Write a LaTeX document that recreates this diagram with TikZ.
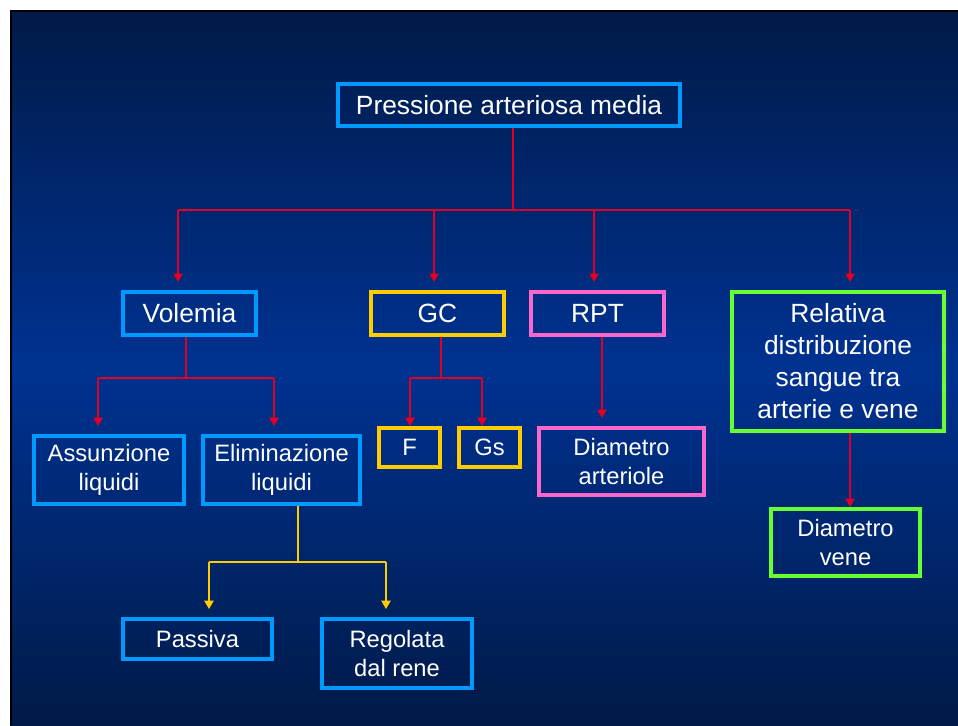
\documentclass[tikz,border=0pt]{standalone}
\usepackage{fontspec}
\setmainfont{Liberation Sans}
\usetikzlibrary{arrows.meta,positioning,calc}
\definecolor{bgtop}{RGB}{0,26,72}
\definecolor{bgmid}{RGB}{0,50,145}
\definecolor{bluebox}{RGB}{0,153,255}
\definecolor{yelbox}{RGB}{255,204,0}
\definecolor{pinkbox}{RGB}{255,102,204}
\definecolor{greenbox}{RGB}{102,255,51}
\definecolor{linkred}{RGB}{225,0,35}

\begin{document}
\begin{tikzpicture}[x=0.02cm,y=-0.02cm,>={Triangle[length=0.17cm,width=0.19cm]},
 box/.style={draw=#1,line width=0.08cm,text=white,align=center,inner sep=0pt,font=\fontsize{13.5}{16.4}\selectfont},
 big/.style={font=\fontsize{15}{18.2}\selectfont},
 rl/.style={draw=linkred,fill=linkred,line width=0.03cm},
 yl/.style={draw=yelbox,fill=yelbox,line width=0.03cm},
 gap/.style={shorten >=0.16cm}]
\useasboundingbox (0,0) rectangle (958,725);
% background
\fill[white] (0,0) rectangle (958,725);
\shade[top color=bgtop,bottom color=bgtop,middle color=bgmid] (10,10) rectangle (958,725);
\draw[black,line width=0.05cm] (11,725) -- (11,11) -- (958,11);
% boxes
\node[box=bluebox,big,minimum width=6.84cm,minimum height=0.84cm] (pam) at (509,105) {Pressione arteriosa media};
\node[box=bluebox,big,minimum width=2.66cm,minimum height=0.86cm] (vol) at (189.5,313.5) {Volemia};
\node[box=yelbox,big,minimum width=2.66cm,minimum height=0.86cm] (gc) at (437.5,313.5) {GC};
\node[box=pinkbox,big,minimum width=2.66cm,minimum height=0.86cm] (rpt) at (597.5,313.5) {RPT};
\node[box=greenbox,big,minimum width=4.24cm,minimum height=2.78cm] (rel) at (838,361.5) {Relativa\\distribuzione\\sangue tra\\arterie e vene};
\node[box=bluebox,minimum width=3cm,minimum height=1.36cm] (ass) at (109,470) {Assunzione\\liquidi};
\node[box=bluebox,minimum width=3.14cm,minimum height=1.36cm] (eli) at (281.5,470) {Eliminazione\\liquidi};
\node[box=yelbox,minimum width=1.22cm,minimum height=0.78cm] (f) at (409.5,447.5) {F};
\node[box=yelbox,minimum width=1.22cm,minimum height=0.78cm] (gs) at (489.5,447.5) {Gs};
\node[box=pinkbox,minimum width=3.3cm,minimum height=1.34cm] (dart) at (621.5,461.5) {Diametro\\arteriole};
\node[box=greenbox,minimum width=2.98cm,minimum height=1.34cm] (dven) at (845.5,542.5) {Diametro\\vene};
\node[box=bluebox,minimum width=2.98cm,minimum height=0.8cm] (pas) at (197.5,639) {Passiva};
\node[box=bluebox,minimum width=3cm,minimum height=1.38cm] (reg) at (397,653.5) {Regolata\\dal rene};
% top level
\coordinate (bus) at (513,210);
\coordinate (dvol) at (178,210); \coordinate (dgc) at (434,210);
\coordinate (drpt) at (594,210); \coordinate (drel) at (850,210);
\draw[rl] (pam.south -| bus) -- (bus);
\draw[rl] (dvol) -- (drel);
\draw[rl,->,gap] (dvol) -- (dvol |- vol.north);
\draw[rl,->,gap] (dgc) -- (dgc |- gc.north);
\draw[rl,->,gap] (drpt) -- (drpt |- rpt.north);
\draw[rl,->,gap] (drel) -- (drel |- rel.north);
% volemia
\coordinate (jv) at (186,378); \coordinate (dass) at (98,378); \coordinate (deli) at (274,378);
\draw[rl] (vol.south -| jv) -- (jv);
\draw[rl] (dass) -- (deli);
\draw[rl,->,gap] (dass) -- (dass |- ass.north);
\draw[rl,->,gap] (deli) -- (deli |- eli.north);
% gc
\coordinate (jg) at (441,378); \coordinate (df) at (410,378); \coordinate (dgs) at (482,378);
\draw[rl] (gc.south -| jg) -- (jg);
\draw[rl] (df) -- (dgs);
\draw[rl,->] (df) -- (df |- f.north);
\draw[rl,->] (dgs) -- (dgs |- gs.north);
% rpt and relativa
\coordinate (jr) at (602,338); \coordinate (jd) at (850,433);
\draw[rl,->,gap] (rpt.south -| jr) -- (jr |- dart.north);
\draw[rl,->] (rel.south -| jd) -- (jd |- dven.north);
% eliminazione
\coordinate (jy) at (298,562); \coordinate (dpas) at (209,562); \coordinate (dreg) at (386,562);
\draw[yl] (eli.south -| jy) -- (jy);
\draw[yl] (dpas) -- (dreg);
\draw[yl,->,gap] (dpas) -- (dpas |- pas.north);
\draw[yl,->,gap] (dreg) -- (dreg |- reg.north);
\end{tikzpicture}
\end{document}
